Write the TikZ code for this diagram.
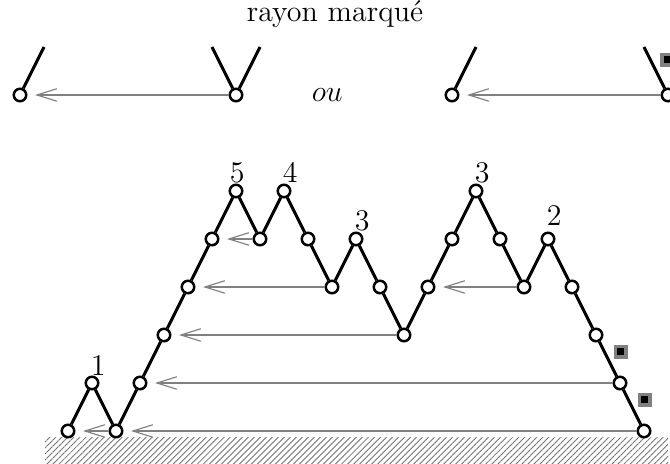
\documentclass[tikz,border=0pt]{standalone}
\usepackage{amsmath,amssymb}
\usepackage{tikz}
\usetikzlibrary{arrows.meta,calc,patterns.meta,positioning}

\tikzset{
  pt/.style={circle,draw,fill=white,line width=1pt,minimum size=5pt,inner sep=0pt},
  chemin/.style={line width=1.2pt},
  rayon/.style={gray,line width=0.45pt,-{Straight Barb[length=8pt,width=5pt]},shorten >=3pt},
  marque/.style={rectangle,fill=gray,minimum size=5.6pt,inner sep=0pt,
    path picture={\fill[black] ($(path picture bounding box.center)+(-1.4pt,-1.4pt)$) rectangle ($(path picture bounding box.center)+(1.4pt,1.4pt)$);}},
  texte/.style={font=\large},
  haut/.style={texte,inner sep=1pt,xshift=2.5pt}
}

\begin{document}
\begin{tikzpicture}[x=9.6pt,y=19.2pt]
\useasboundingbox (-2.833,-0.667) rectangle (25.083,8.979);
% sol
\fill[pattern={Lines[angle=45,distance=1.7pt,line width=0.35pt]},pattern color=black!55] (-0.958,-0.125) rectangle (25,-0.7);

% titre et exemples
\node[texte] (titre) at (11.125,8.69) {rayon marqué};
\node[pt] (a1) at (-2,7) {};
\coordinate (a1h) at (-1,8);
\node[pt] (a2) at (7,7) {};
\coordinate (a2g) at (6,8);
\coordinate (a2d) at (8,8);
\node[texte] (ou) at (10.8,7) {$ou$};
\node[pt] (b1) at (16,7) {};
\coordinate (b1h) at (17,8);
\node[pt] (b2) at (25,7) {};
\coordinate (b2h) at (24,8);
\node[marque] (mb) at (24.96,7.73) {};
\draw[chemin] (a1) -- (a1h);
\draw[chemin] (a2g) -- (a2) -- (a2d);
\draw[chemin] (b1) -- (b1h);
\draw[chemin] (b2) -- (b2h);
\draw[rayon] (a2) -- (a1);
\draw[rayon] (b2) -- (b1);

% chemin de Dyck
\foreach \h [count=\i from 0] in {0,1,0,1,2,3,4,5,4,5,4,3,4,3,2,3,4,5,4,3,4,3,2,1,0}
  \node[pt] (p\i) at (\i,\h) {};
\foreach \i [count=\j from 1] in {0,...,23}
  \draw[chemin] (p\i) -- (p\j);

% hauteurs
\node[haut,above=-1pt of p1] (h1) {1};
\node[haut,above=-1pt of p7,xshift=-2pt] (h7) {5};
\node[haut,above=-1pt of p9] (h9) {4};
\node[haut,above=-1pt of p12] (h12) {3};
\node[haut,above=-1pt of p17] (h17) {3};
\node[haut,above=1pt of p20] (h20) {2};

% rayons
\draw[rayon] (p2) -- (p0);
\draw[rayon] (p24) -- (p2);
\draw[rayon] (p23) -- (p3);
\draw[rayon] (p14) -- (p4);
\draw[rayon] (p11) -- (p5);
\draw[rayon] (p19) -- (p15);
\draw[rayon] (p8) -- (p6);

% rayons marques
\node[marque] (m1) at (23.04,1.646) {};
\node[marque] (m2) at (24.04,0.646) {};
\end{tikzpicture}
\end{document}
